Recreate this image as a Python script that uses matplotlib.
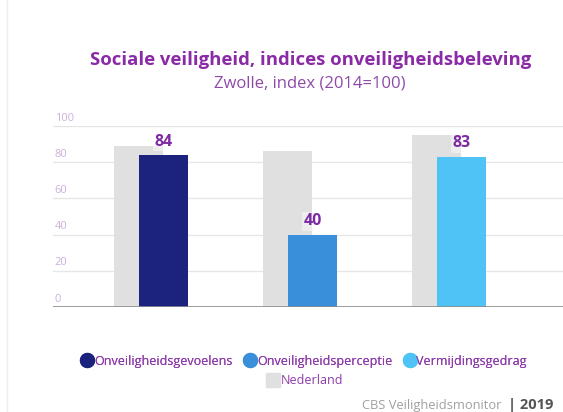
import numpy as np
import matplotlib.pyplot as plt
from matplotlib.lines import Line2D

plt.rcParams['font.family'] = ['Open Sans', 'DejaVu Sans']

cats = ["Onveiligheidsgevoelens", "Onveiligheidsperceptie", "Vermijdingsgedrag"]
zwolle = [84, 40, 83]
nederland = [89, 86, 95]
yticks = [0, 20, 40, 60, 80, 100]
colors = ["#1b237f", "#3a8fdb", "#4fc3f6"]
grey = "#e0e0e0"
purple = "#7d2aa3"

fig = plt.figure(figsize=(5.63, 4.12), dpi=100)
ax = fig.add_axes([53 / 563, 1 - 307 / 412, 1 - 53 / 563, (307 - 126) / 412])

x = np.arange(len(cats))
w = 0.33
off = 0.084
ax.bar(x - off, nederland, w, color=grey, zorder=2)
bars = ax.bar(x + off, zwolle, w, color=colors, zorder=3)
for b, v in zip(bars, zwolle):
    ax.text(b.get_x() + b.get_width() / 2, v + 3, str(v), ha="center", va="bottom",
            fontsize=11.5, fontweight="bold", color=purple, zorder=5,
            bbox=dict(boxstyle="square,pad=0.1", fc="white", ec="none", alpha=0.45))

ax.set_xlim(-0.66, 2.765)
ax.set_ylim(0, 100)
for t in yticks:
    if t > 0:
        ax.axhline(t, color="#e6e6e6", lw=1, zorder=1)
    ax.text(-0.648, t + 4.4, str(t), ha="left", va="center", fontsize=8, color="#cdb0dc")
ax.axhline(0, color="#8c8c8c", lw=1.2, zorder=4)
for s in ax.spines.values():
    s.set_visible(False)
ax.set_xticks([])
ax.set_yticks([])

fig.text(0.551, 1 - 60 / 412, "Sociale veiligheid, indices onveiligheidsbeleving",
         ha="center", va="center", fontsize=13.3, fontweight="bold", color="#8a2aa6")
fig.text(0.551, 1 - 83 / 412, "Zwolle, index (2014=100)",
         ha="center", va="center", fontsize=12, color="#8e4aa8")

fig.add_artist(Line2D([7 / 563, 7 / 563], [0, 1], color="#eeeeee", lw=1))

handles = [Line2D([], [], marker="o", ls="none", markersize=10, color=c) for c in colors]
leg1 = fig.legend(handles, cats, loc="center", bbox_to_anchor=(304 / 563, 1 - 361 / 412),
                  ncol=3, frameon=False, fontsize=9, labelcolor="#8e3aab",
                  handletextpad=0.05, columnspacing=0.9, handlelength=1.0)
fig.add_artist(leg1)
hnl = [Line2D([], [], marker="s", ls="none", markersize=10, color=grey)]
fig.legend(hnl, ["Nederland"], loc="center", bbox_to_anchor=(305 / 563, 1 - 381 / 412),
           frameon=False, fontsize=9, labelcolor="#8e3aab",
           handletextpad=0.05, handlelength=1.0)

fig.text(362 / 563, 1 - 405 / 412, "CBS Veiligheidsmonitor", ha="left", va="center",
         fontsize=9.3, color="#a0a0a0")
fig.text(508 / 563, 1 - 405 / 412, "| 2019", ha="left", va="center",
         fontsize=10.5, fontweight="bold", color="#555555")

fig.savefig("out.png", dpi=100, facecolor="white")
